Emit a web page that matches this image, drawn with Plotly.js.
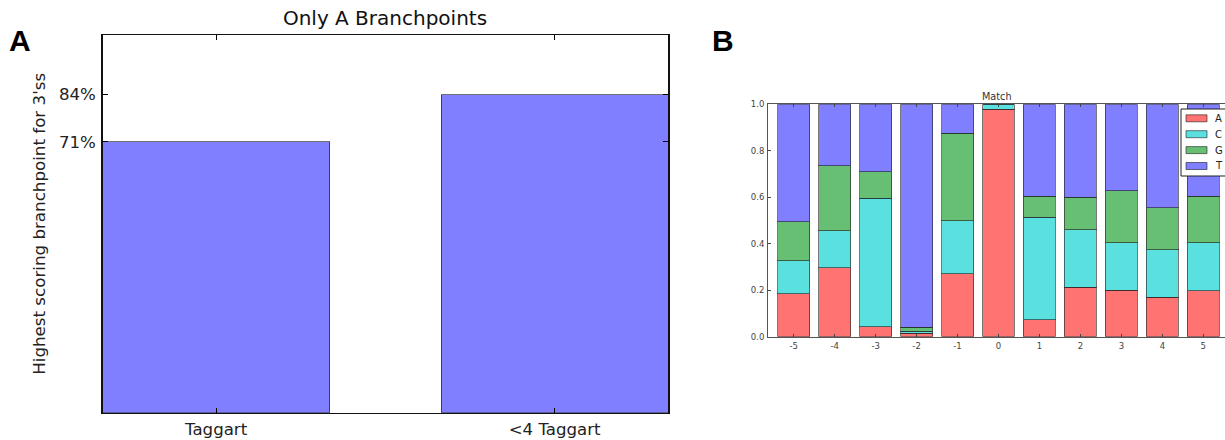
<!DOCTYPE html>
<html>
<head>
<meta charset="utf-8">
<script src="https://cdn.plot.ly/plotly-3.0.1.min.js"></script>
<style>html,body{margin:0;padding:0;background:#fff;overflow:hidden}#chart{width:1225px;height:440px}</style>
</head>
<body>
<div id="chart"></div>
<script>
// Panel A data
const groupsA = ["Taggart", "<4 Taggart"];
const valuesA = [0.717, 0.842];
const tickLabelsA = ["71%", "84%"];

// Panel B data (stacked fractions per position)
const positions = [-5, -4, -3, -2, -1, 0, 1, 2, 3, 4, 5];
const fracA = [0.184, 0.297, 0.043, 0.015, 0.270, 0.978, 0.072, 0.212, 0.199, 0.169, 0.197];
const fracC = [0.142, 0.158, 0.552, 0.008, 0.228, 0.022, 0.443, 0.249, 0.206, 0.205, 0.208];
const fracG = [0.168, 0.281, 0.114, 0.017, 0.377, 0.000, 0.090, 0.140, 0.222, 0.180, 0.200];
const fracT = [0.506, 0.264, 0.291, 0.960, 0.125, 0.000, 0.395, 0.399, 0.373, 0.446, 0.395];
const bases = ["A", "C", "G", "T"];
const yTicksB = [0, 0.2, 0.4, 0.6, 0.8, 1.0];
const yTickTextB = ["0.0", "0.2", "0.4", "0.6", "0.8", "1.0"];

const font = "DejaVu Sans, sans-serif";
const edgeColor = "rgba(30,30,30,0.6)";
const W = 1225, H = 440;
const px = v => v / W, py = v => 1 - v / H;

const traces = [{
  type: "bar", x: [0, 1], y: valuesA, width: 0.67,
  marker: {color: "#7f7fff", line: {color: "rgba(0,0,0,0.55)", width: 1}},
  xaxis: "x", yaxis: "y", showlegend: false, hoverinfo: "skip"
}];
const colorsB = ["#ff7373", "#5be0e0", "#67bf74", "#7f7fff"];
[fracA, fracC, fracG, fracT].forEach((arr, i) => {
  traces.push({
    type: "bar", x: positions, y: arr, width: 0.78, name: bases[i],
    marker: {color: colorsB[i], line: {color: edgeColor, width: 1}},
    xaxis: "x2", yaxis: "y2", showlegend: false
  });
});

// Custom legend box (matplotlib style) for panel B
const shapes = [{type: "rect", xref: "paper", yref: "paper",
  x0: px(1181), x1: px(1240), y0: py(109), y1: py(176),
  fillcolor: "#fff", line: {color: "#222", width: 1}, layer: "above"}];
const annotations = [];
bases.forEach((b, i) => {
  const yc = 118.3 + 15.9 * i;
  shapes.push({type: "rect", xref: "paper", yref: "paper",
    x0: px(1186), x1: px(1207), y0: py(yc + 3.5), y1: py(yc - 3.5),
    fillcolor: colorsB[i], line: {color: edgeColor, width: 1}, layer: "above"});
  annotations.push({text: b, xref: "paper", yref: "paper", x: px(1213), y: py(yc),
    xanchor: "left", yanchor: "middle", showarrow: false,
    font: {family: font, size: 10, color: "#222"}});
});
annotations.push(
  {text: "Match", x: px((768.3 + 1225) / 2), xref: "paper", y: py(96.7), yref: "paper",
   showarrow: false, xanchor: "center", yanchor: "middle", font: {family: font, size: 9.7, color: "#333"}},
  {text: "<b>A</b>", x: px(20), xref: "paper", y: py(41), yref: "paper",
   showarrow: false, xanchor: "center", yanchor: "middle", font: {family: "Liberation Sans, Arial, sans-serif", size: 30, color: "#000"}},
  {text: "<b>B</b>", x: px(723), xref: "paper", y: py(40.5), yref: "paper",
   showarrow: false, xanchor: "center", yanchor: "middle", font: {family: "Liberation Sans, Arial, sans-serif", size: 30, color: "#000"}}
);

const layout = {
  width: W, height: H,
  margin: {l: 0, r: 0, t: 0, b: 0, autoexpand: false},
  paper_bgcolor: "#fff", plot_bgcolor: "#fff",
  barmode: "stack", bargap: 0, showlegend: false,
  font: {family: font, color: "#222"},
  title: {text: "Only A Branchpoints", x: px(385), xanchor: "center", xref: "paper",
          y: py(18), yanchor: "middle", yref: "paper",
          font: {family: font, size: 20, color: "#111"}},
  xaxis: {
    domain: [px(102.7), px(668)], range: [-0.335, 1.335], anchor: "y",
    tickvals: [0, 1], ticktext: groupsA,
    ticks: "inside", ticklen: 5, tickcolor: "#000", tickwidth: 1,
    showline: true, linecolor: "#111", linewidth: 1.5, mirror: "ticks",
    showgrid: false, zeroline: false, fixedrange: true,
    tickfont: {family: font, size: 16.6, color: "#222"}, ticklabelstandoff: 1
  },
  yaxis: {
    domain: [py(412.7), py(35)], range: [0, 1], anchor: "x",
    tickvals: valuesA, ticktext: tickLabelsA,
    ticks: "inside", ticklen: 5, tickcolor: "#000", tickwidth: 1,
    showline: true, linecolor: "#111", linewidth: 1.5, mirror: "ticks",
    showgrid: false, zeroline: false, fixedrange: true,
    tickfont: {family: font, size: 16.6, color: "#222"}, ticklabelstandoff: 2,
    title: {text: "Highest scoring branchpoint for 3'ss", standoff: 9,
            font: {family: font, size: 16.7, color: "#222"}}
  },
  xaxis2: {
    domain: [px(768.3), 1], range: [-5.62, 5.53], anchor: "y2",
    tickvals: positions, ticktext: positions.map(String),
    ticks: "inside", ticklen: 3, tickcolor: "#444", tickwidth: 1,
    showline: true, linecolor: "#555", linewidth: 1.3, mirror: "ticks",
    showgrid: false, zeroline: false, fixedrange: true,
    tickfont: {family: font, size: 8.5, color: "#444"}, ticklabelstandoff: 1
  },
  yaxis2: {
    domain: [py(336.7), py(104.3)], range: [0, 1], anchor: "x2",
    tickvals: yTicksB, ticktext: yTickTextB,
    ticks: "inside", ticklen: 3, tickcolor: "#444", tickwidth: 1,
    showline: true, linecolor: "#555", linewidth: 1.3, mirror: false,
    showgrid: false, zeroline: false, fixedrange: true,
    tickfont: {family: font, size: 8.5, color: "#444"}, ticklabelstandoff: 1
  },
  shapes: shapes,
  annotations: annotations
};

Plotly.newPlot("chart", traces, layout, {displayModeBar: false, staticPlot: true});
</script>
</body>
</html>
